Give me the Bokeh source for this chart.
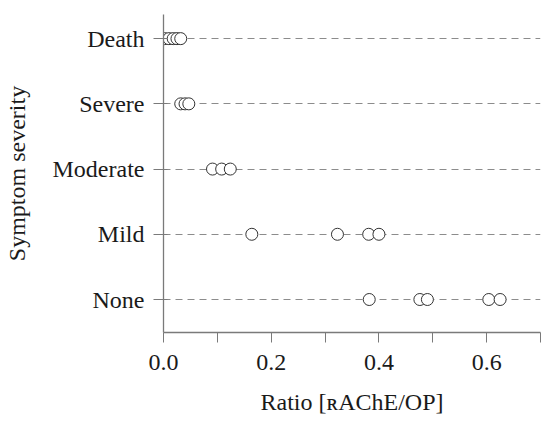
from bokeh.plotting import figure
from bokeh.models import FixedTicker, Range1d
from bokeh.embed import file_html
from bokeh.resources import INLINE

categories = ["None", "Mild", "Moderate", "Severe", "Death"]
cat_pos = [1, 2, 3, 4, 5]

death = [0.002, 0.010, 0.018, 0.025, 0.032]
severe = [0.032, 0.040, 0.047]
moderate = [0.091, 0.108, 0.124]
mild = [0.164, 0.323, 0.381, 0.400]
none = [0.382, 0.476, 0.490, 0.604, 0.625]

series = {"None": none, "Mild": mild, "Moderate": moderate, "Severe": severe, "Death": death}

x_major = [0.0, 0.2, 0.4, 0.6]
x_minor = [0.1, 0.3, 0.5, 0.7]

FONT = "Liberation Serif"
TXT = "#1a1a1a"
AXC = "#7a7a7a"

p = figure(width=548, height=423, output_backend="svg", toolbar_location=None,
           x_range=Range1d(0, 0.7), y_range=Range1d(0.494, 5.37),
           min_border_left=162, min_border_right=8, min_border_top=14, min_border_bottom=91)
p.outline_line_color = None
p.background_fill_color = "white"
p.border_fill_color = "white"

# grid: dashed lines at categories
p.xgrid.grid_line_color = None
p.ygrid.grid_line_color = "#8c8c8c"
p.ygrid.grid_line_dash = "7 5"
p.ygrid.grid_line_width = 1

# x axis
p.xaxis.ticker = FixedTicker(ticks=x_major, minor_ticks=x_minor)
p.xaxis.axis_label = "Ratio [ʀAChE/OP]"
p.xaxis.major_label_overrides = {0.0: "0.0", 0.2: "0.2", 0.4: "0.4", 0.6: "0.6"}
p.xaxis.major_tick_in = 0
p.xaxis.major_tick_out = 10
p.xaxis.minor_tick_in = 0
p.xaxis.minor_tick_out = 10
p.xaxis.minor_tick_line_color = AXC
p.xaxis.major_label_standoff = 12
p.xaxis.axis_label_standoff = 16

# y axis
p.yaxis.ticker = FixedTicker(ticks=cat_pos, minor_ticks=[])
p.yaxis.major_label_overrides = {pos: c for pos, c in zip(cat_pos, categories)}
p.yaxis.axis_label = "Symptom severity"
p.yaxis.major_tick_in = 4
p.yaxis.major_tick_out = 10
p.yaxis.minor_tick_line_color = None
p.yaxis.major_label_standoff = 9
p.yaxis.axis_label_standoff = 20

for ax in (p.xaxis, p.yaxis):
    ax.axis_line_color = AXC
    ax.axis_line_width = 1.3
    ax.major_tick_line_color = AXC
    ax.major_label_text_font = FONT
    ax.major_label_text_font_size = "24px"
    ax.major_label_text_color = TXT
    ax.axis_label_text_font = FONT
    ax.axis_label_text_font_size = "24px"
    ax.axis_label_text_font_style = "normal"
    ax.axis_label_text_color = TXT

for pos, c in zip(cat_pos, categories):
    xs = series[c]
    p.scatter(x=xs, y=[pos] * len(xs), size=12, marker="circle",
              fill_color="white", line_color="#333333", line_width=1)

open("out.html", "w").write(file_html(p, INLINE))
